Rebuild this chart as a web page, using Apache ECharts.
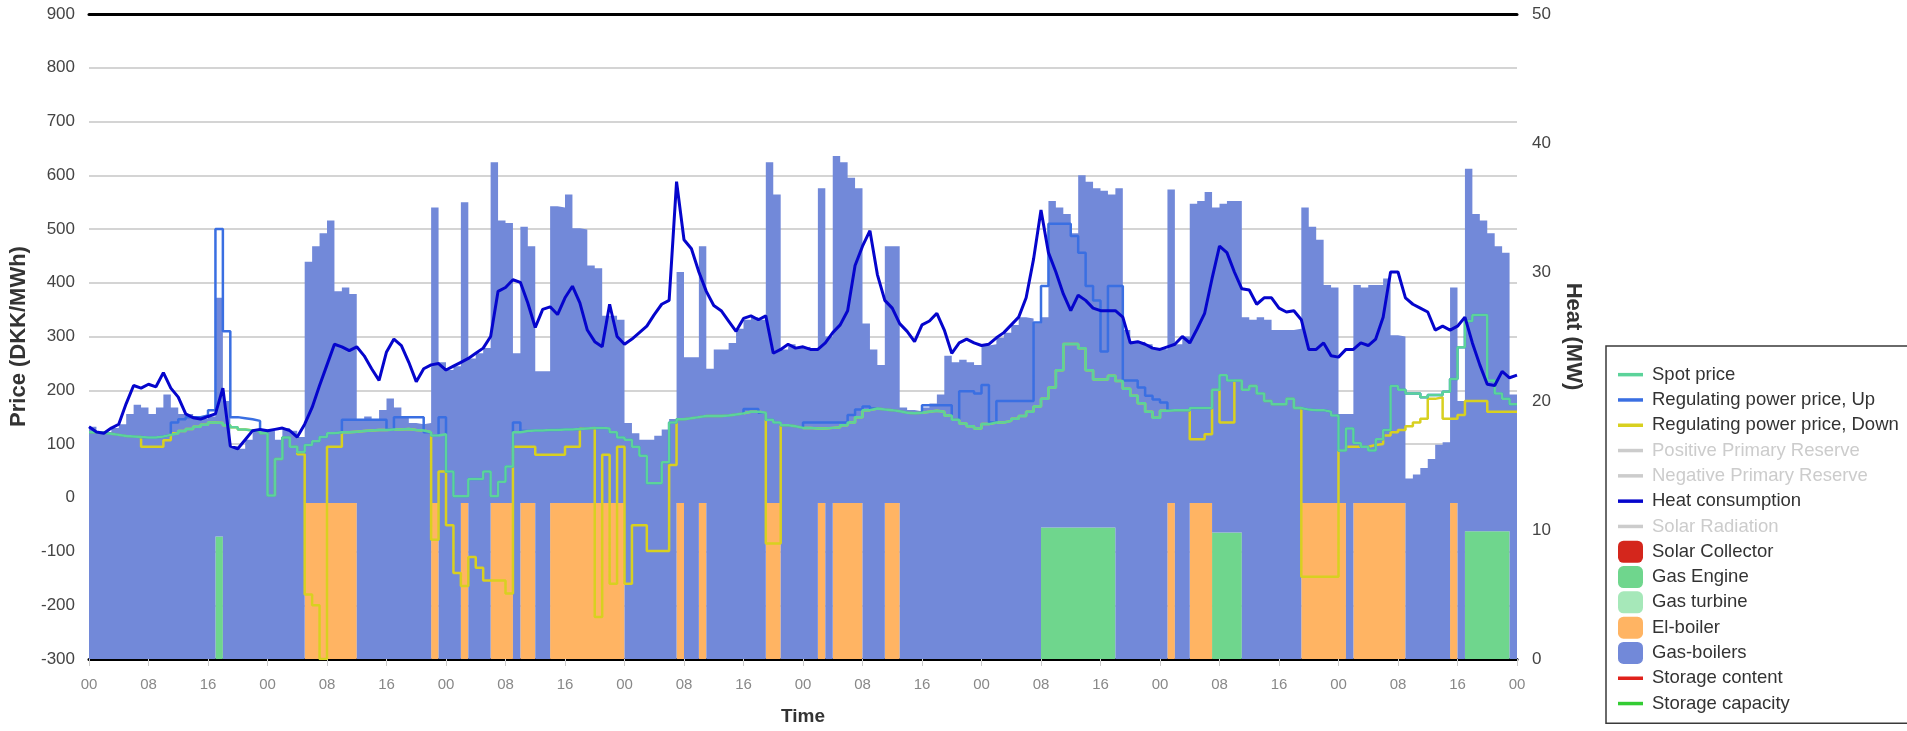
<!DOCTYPE html>
<html>
<head>
<meta charset="utf-8">
<title>Heat production and electricity prices</title>
<script src="https://cdn.jsdelivr.net/npm/echarts/dist/echarts.min.js"></script>
<style>
  html, body { margin: 0; padding: 0; background: #ffffff; }
  #chart { width: 1907px; height: 731px; }
</style>
</head>
<body>
<div id="chart"></div>
<script>
// Hourly values over eight days (hour 0 .. 191), one row per day.

// Time axis tick labels (hour of day at 8-hour ticks)
const tickLabels = ['00', '08', '16'];

// Spot price, DKK/MWh
const spotPrice = [
  122,121,119,117,115,114,113,112,112,114,117,120,124,128,132,136,140,139,135,131,127,125,124,120,
  4,72,112,95,85,98,105,113,120,122,122,123,124,125,126,126,127,127,128,126,125,122,116,118,
  49,3,3,35,35,49,3,30,58,122,124,125,125,126,126,127,127,128,129,130,130,129,122,112,
  108,95,78,27,27,66,140,146,148,150,152,152,152,153,155,157,160,160,158,145,140,135,133,130,
  130,129,129,130,131,135,140,150,163,166,164,163,161,158,157,158,160,162,160,153,145,138,133,129,
  137,140,140,143,147,152,160,170,184,205,237,286,286,278,237,220,220,227,217,203,190,176,160,149,
  162,163,163,163,167,167,167,201,228,218,218,201,208,194,180,174,174,184,167,164,163,163,160,153,
  88,129,102,95,88,109,126,208,201,194,194,187,191,191,197,221,280,329,340,340,218,194,184,174
];

// Regulating power price, up-regulation, DKK/MWh
const regUpPrice = [
  122,121,119,117,115,114,113,112,112,114,117,140,146,150,150,153,163,500,310,150,148,146,143,120,
  4,72,112,95,85,98,105,113,120,122,145,145,145,145,145,145,127,150,150,150,150,122,116,150,
  49,3,3,35,35,49,3,30,58,140,124,125,125,126,126,127,127,128,129,130,130,129,122,112,
  108,95,78,27,27,66,140,146,148,150,152,152,152,153,155,157,165,165,158,145,140,135,133,130,
  140,140,140,140,140,140,154,164,170,166,164,163,161,158,157,158,172,172,172,172,145,198,198,194,
  210,140,180,180,180,180,180,326,394,510,510,510,487,456,394,367,272,394,394,218,218,205,190,183,
  177,163,163,163,167,167,167,201,228,218,218,201,208,194,180,174,174,184,167,164,163,163,160,153,
  88,129,102,95,88,109,126,208,201,194,194,187,191,191,197,221,280,329,340,340,218,194,184,174
];

// Regulating power price, down-regulation, DKK/MWh
const regDownPrice = [
  122,121,119,117,115,114,113,95,95,95,107,120,124,128,132,136,140,139,135,131,127,125,124,120,
  4,72,112,95,81,-180,-200,-300,95,95,122,123,124,125,126,126,127,127,128,126,125,122,-78,49,
  -51,-140,-164,-110,-130,-154,-154,-154,-178,95,95,95,80,80,80,80,95,95,129,130,-222,80,-160,95,
  -160,-51,-51,-99,-99,-99,61,146,148,150,152,152,152,153,155,157,160,160,158,-85,-85,135,133,130,
  130,129,129,130,131,135,140,150,163,166,164,163,161,158,157,158,160,162,160,153,145,138,133,129,
  137,140,140,143,147,152,160,170,184,205,237,286,286,278,237,220,220,227,217,203,190,176,160,149,
  162,163,163,163,109,109,118,201,140,140,218,201,208,194,180,174,174,184,167,-147,-147,-147,-147,-147,
  88,95,95,95,98,100,116,122,126,133,140,147,184,187,147,147,154,180,180,180,160,160,160,160
];

// Heat consumption, MW (hour 0 .. 192)
const heatConsumption = [
  18.0,17.6,17.5,17.9,18.2,19.8,21.2,21.0,21.3,21.1,22.2,21.0,20.3,19.0,18.7,18.6,18.8,19.0,21.0,16.5,16.3,17.0,17.7,17.8,
  17.7,17.8,17.9,17.7,17.2,18.2,19.5,21.2,22.8,24.4,24.2,23.9,24.2,23.5,22.5,21.6,23.8,24.8,24.3,23.0,21.5,22.5,22.8,22.9,
  22.4,22.7,23.0,23.3,23.7,24.1,25.0,28.5,28.8,29.4,29.2,27.6,25.7,27.1,27.3,26.7,28.0,28.9,27.6,25.5,24.6,24.2,27.5,25.0,
  24.4,24.8,25.3,25.8,26.7,27.5,27.8,37.0,32.5,31.8,30.0,28.5,27.4,27.0,26.2,25.4,26.4,26.6,26.3,26.6,23.7,24.0,24.4,24.1,
  24.2,24.0,24.0,24.5,25.3,25.9,27.0,30.5,32.0,33.2,29.8,27.8,27.2,26.0,25.4,24.6,25.9,26.2,26.8,25.5,23.7,24.5,24.8,24.5,
  24.3,24.4,24.9,25.3,25.9,26.5,28.0,31.0,34.8,31.5,30.0,28.3,27.0,28.2,27.8,27.2,27.0,27.0,27.0,26.5,24.5,24.6,24.4,24.1,
  24.0,24.2,24.4,25.0,24.5,25.6,26.8,29.5,32.0,31.5,30.0,28.7,28.6,27.5,28.0,28.0,27.2,26.9,27.0,26.3,24.0,24.0,24.5,23.5,
  23.4,24.0,24.0,24.5,24.3,24.8,26.5,30.0,30.0,28.0,27.5,27.2,26.9,25.5,25.8,25.5,25.8,26.5,24.5,22.8,21.3,21.2,22.3,21.8,
  22.0
];

// Gas engine heat production, MW
const gasEngine = [
  0,0,0,0,0,0,0,0,0,0,0,0,0,0,0,0,0,9.5,0,0,0,0,0,0,
  0,0,0,0,0,0,0,0,0,0,0,0,0,0,0,0,0,0,0,0,0,0,0,0,
  0,0,0,0,0,0,0,0,0,0,0,0,0,0,0,0,0,0,0,0,0,0,0,0,
  0,0,0,0,0,0,0,0,0,0,0,0,0,0,0,0,0,0,0,0,0,0,0,0,
  0,0,0,0,0,0,0,0,0,0,0,0,0,0,0,0,0,0,0,0,0,0,0,0,
  0,0,0,0,0,0,0,0,10.2,10.2,10.2,10.2,10.2,10.2,10.2,10.2,10.2,10.2,0,0,0,0,0,0,
  0,0,0,0,0,0,0,9.8,9.8,9.8,9.8,0,0,0,0,0,0,0,0,0,0,0,0,0,
  0,0,0,0,0,0,0,0,0,0,0,0,0,0,0,0,0,9.9,9.9,9.9,9.9,9.9,9.9,0
];

// El-boiler heat production, MW
const elBoiler = [
  0,0,0,0,0,0,0,0,0,0,0,0,0,0,0,0,0,0,0,0,0,0,0,0,
  0,0,0,0,0,12.1,12.1,12.1,12.1,12.1,12.1,12.1,0,0,0,0,0,0,0,0,0,0,12.1,0,
  0,0,12.1,0,0,0,12.1,12.1,12.1,0,12.1,12.1,0,0,12.1,12.1,12.1,12.1,12.1,12.1,12.1,12.1,12.1,12.1,
  0,0,0,0,0,0,0,12.1,0,0,12.1,0,0,0,0,0,0,0,0,12.1,12.1,0,0,0,
  0,0,12.1,0,12.1,12.1,12.1,12.1,0,0,0,12.1,12.1,0,0,0,0,0,0,0,0,0,0,0,
  0,0,0,0,0,0,0,0,0,0,0,0,0,0,0,0,0,0,0,0,0,0,0,0,
  0,12.1,0,0,12.1,12.1,12.1,0,0,0,0,0,0,0,0,0,0,0,0,12.1,12.1,12.1,12.1,12.1,
  12.1,0,12.1,12.1,12.1,12.1,12.1,12.1,12.1,0,0,0,0,0,0,12.1,0,0,0,0,0,0,0,0
];

// Gas-boilers heat production, MW
const gasBoilers = [
  18.0,17.6,17.5,17.9,18.2,19.0,19.7,19.5,19.0,19.5,20.5,19.5,19.0,19.0,18.7,18.6,18.8,18.5,20.0,16.5,16.3,17.0,17.7,17.8,
  17.7,17.0,17.9,17.7,17.2,18.7,19.9,20.9,21.9,16.4,16.7,16.2,18.6,18.8,18.5,19.3,20.2,19.5,18.8,18.3,18.2,18.3,22.9,23.0,
  22.4,22.7,23.3,23.3,23.7,24.1,26.4,21.9,21.7,23.7,21.4,19.9,22.3,22.3,23.0,22.9,23.9,21.3,21.2,18.4,18.2,14.5,14.5,14.2,
  18.3,17.5,17.0,17.0,17.3,17.8,18.6,17.9,23.4,23.4,19.9,22.5,24.0,24.0,24.5,25.6,26.3,26.5,26.3,26.4,23.9,24.0,24.4,24.1,
  24.2,24.0,24.4,25.0,26.9,26.4,25.2,24.4,26.0,24.0,22.8,19.9,19.9,19.5,19.3,19.2,19.5,19.8,20.5,23.5,23.0,23.2,23.0,22.8,
  24.3,24.4,24.9,25.3,25.9,26.5,26.4,26.0,16.3,25.3,24.8,24.3,22.8,27.3,26.8,26.3,26.1,25.8,36.5,25.5,24.5,24.6,24.4,24.1,
  24.0,24.3,24.4,25.0,23.2,23.4,24.1,25.2,25.5,25.7,25.7,26.5,26.3,26.5,26.3,25.5,25.5,25.5,25.6,22.9,21.4,20.4,16.9,16.7,
  6.9,19.0,16.9,16.7,16.9,16.9,17.4,13.0,12.9,14.0,14.3,14.8,15.5,16.6,16.8,16.7,20.0,28.1,24.6,24.1,23.1,22.1,21.6,20.5
];

const FONT = "'Liberation Sans', Arial, Helvetica, sans-serif";
const LINE_ICON = 'path://M0,0H25V3.5H0Z';

// Hour categories 0 .. 192 (the last one closes the final hourly block)
const hourCategories = heatConsumption.map((_, h) => String(h));

// Hourly blocks: each value holds from its hour until the next one
const toSteps = arr => arr.concat([arr[arr.length - 1]]);

function priceLine(name, data, color, z) {
  return {
    name, type: 'line', step: 'end', xAxisIndex: 0, yAxisIndex: 0,
    data: toSteps(data), symbol: 'none', z,
    itemStyle: { color }, lineStyle: { color, width: 2.5 }
  };
}
function productionArea(name, data, color) {
  return {
    name, type: 'line', step: 'end', stack: 'heat', xAxisIndex: 0, yAxisIndex: 1,
    data: toSteps(data), symbol: 'none', z: 1,
    itemStyle: { color }, lineStyle: { width: 0, color },
    areaStyle: { color, opacity: 1 }
  };
}
function emptyLine(name, color) {
  return { name, type: 'line', yAxisIndex: 0, data: [], symbol: 'none',
           itemStyle: { color }, lineStyle: { color, width: 2 } };
}
function emptyArea(name, color) {
  return { name, type: 'line', yAxisIndex: 1, data: [], symbol: 'none',
           itemStyle: { color }, areaStyle: { color, opacity: 1 } };
}

const chart = echarts.init(document.getElementById('chart'), null, { renderer: 'canvas' });

const option = {
  animation: false,
  backgroundColor: '#ffffff',
  textStyle: { fontFamily: FONT },
  grid: { left: 89, right: 390, top: 14, bottom: 60, containLabel: false },
  legend: {
    orient: 'vertical',
    left: 1606, top: 346,
    padding: [16, 40, 7, 12],
    borderColor: '#3a3a3a', borderWidth: 1.5,
    itemWidth: 25, itemHeight: 22, itemGap: 0,
    textStyle: { fontSize: 18.5, lineHeight: 25.3, color: '#333333', fontFamily: FONT, padding: [0, 0, 0, 4] },
    inactiveColor: '#cccccc',
    itemStyle: { borderWidth: 0 },
    data: [
      { name: 'Spot price', icon: LINE_ICON },
      { name: 'Regulating power price, Up', icon: LINE_ICON },
      { name: 'Regulating power price, Down', icon: LINE_ICON },
      { name: 'Positive Primary Reserve', icon: LINE_ICON },
      { name: 'Negative Primary Reserve', icon: LINE_ICON },
      { name: 'Heat consumption', icon: LINE_ICON },
      { name: 'Solar Radiation', icon: LINE_ICON },
      { name: 'Solar Collector', icon: 'roundRect' },
      { name: 'Gas Engine', icon: 'roundRect' },
      { name: 'Gas turbine', icon: 'roundRect' },
      { name: 'El-boiler', icon: 'roundRect' },
      { name: 'Gas-boilers', icon: 'roundRect' },
      { name: 'Storage content', icon: LINE_ICON },
      { name: 'Storage capacity', icon: LINE_ICON }
    ],
    selected: {
      'Positive Primary Reserve': false,
      'Negative Primary Reserve': false,
      'Solar Radiation': false
    }
  },
  xAxis: [
    {
      type: 'category', data: hourCategories, boundaryGap: false, position: 'bottom',
      name: 'Time', nameLocation: 'middle', nameGap: 48,
      nameTextStyle: { fontSize: 19, fontWeight: 'bold', color: '#333333', fontFamily: FONT },
      axisLine: { onZero: false, lineStyle: { color: '#000000', width: 3 } },
      axisTick: { show: true, interval: 7, length: 7, lineStyle: { color: '#cccccc', width: 1 } },
      axisLabel: {
        interval: 7, fontSize: 15, color: '#888888', margin: 18, fontFamily: FONT,
        formatter: (value, index) => tickLabels[(index % 24) / 8]
      },
      splitLine: { show: false }
    },
    {
      type: 'category', data: hourCategories, boundaryGap: false, position: 'top',
      axisLine: { onZero: false, lineStyle: { color: '#000000', width: 3 } },
      axisTick: { show: false }, axisLabel: { show: false }, splitLine: { show: false }
    }
  ],
  yAxis: [
    {
      type: 'value', min: -300, max: 900, interval: 100, position: 'left',
      name: 'Price (DKK/MWh)', nameLocation: 'middle', nameGap: 56, nameRotate: 90,
      nameTextStyle: { fontSize: 22, fontWeight: 'bold', color: '#333333', fontFamily: FONT },
      axisLine: { show: false }, axisTick: { show: false },
      axisLabel: { fontSize: 17, color: '#444444', margin: 14, fontFamily: FONT },
      splitLine: { show: true, lineStyle: { color: '#d4d4d4', width: 2 } }
    },
    {
      type: 'value', min: 0, max: 50, interval: 10, position: 'right',
      name: 'Heat (MW)', nameLocation: 'middle', nameGap: 43, nameRotate: -90,
      nameTextStyle: { fontSize: 22, fontWeight: 'bold', color: '#333333', fontFamily: FONT },
      axisLine: { show: false }, axisTick: { show: false },
      axisLabel: { fontSize: 17, color: '#444444', margin: 15, fontFamily: FONT },
      splitLine: { show: false }
    }
  ],
  series: [
    productionArea('Gas Engine', gasEngine, '#6fd68d'),
    productionArea('El-boiler', elBoiler, '#ffb463'),
    productionArea('Gas-boilers', gasBoilers, '#7289d9'),
    emptyArea('Solar Collector', '#d4261c'),
    emptyArea('Gas turbine', '#a6e8b9'),
    priceLine('Regulating power price, Down', regDownPrice, '#d8d020', 3),
    priceLine('Regulating power price, Up', regUpPrice, '#3a6fe2', 4),
    priceLine('Spot price', spotPrice, '#5cd39a', 5),
    emptyLine('Positive Primary Reserve', '#cccccc'),
    emptyLine('Negative Primary Reserve', '#cccccc'),
    emptyLine('Solar Radiation', '#cccccc'),
    {
      name: 'Heat consumption', type: 'line', xAxisIndex: 0, yAxisIndex: 1,
      data: heatConsumption, symbol: 'none', z: 6,
      itemStyle: { color: '#0505cc' }, lineStyle: { color: '#0505cc', width: 3 }
    },
    emptyLine('Storage content', '#e0211b'),
    emptyLine('Storage capacity', '#33cc33')
  ]
};

chart.setOption(option);
</script>
</body>
</html>
